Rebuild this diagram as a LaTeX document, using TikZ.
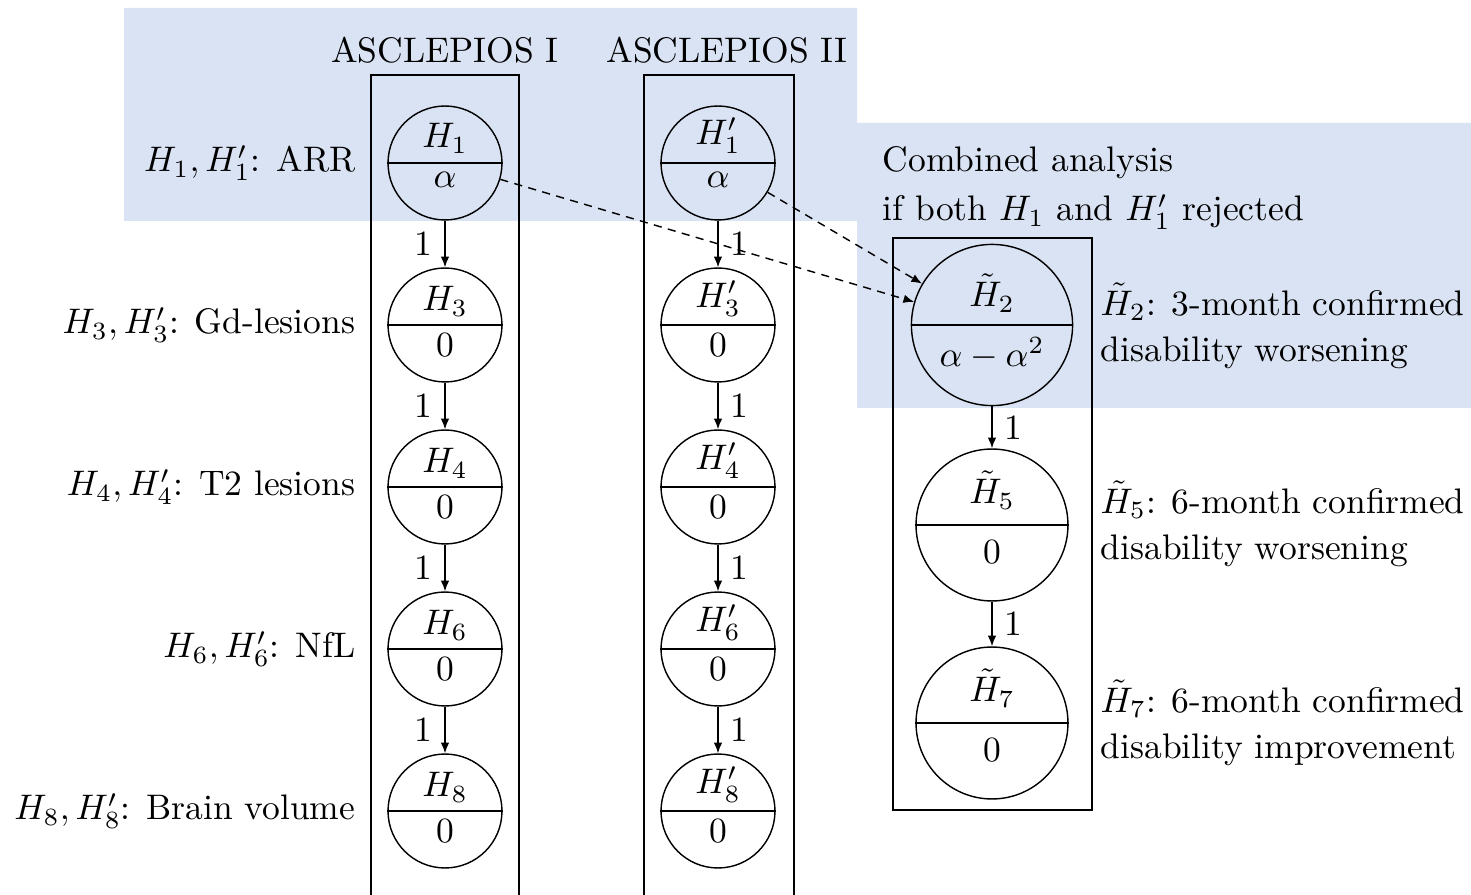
\documentclass[tikz,border=0pt]{standalone}
\usetikzlibrary{arrows.meta}
\definecolor{bgblue}{RGB}{218,227,243}
\tikzset{
  hyp/.style={circle, draw, line width=0.4pt, inner sep=0pt},
  hypline/.style={line width=0.4pt},
  htxt/.style={inner sep=0pt},
  flow/.style={line width=0.4pt, -{Latex[length=3pt,width=2.4pt]}},
  combo/.style={line width=0.4pt, dash pattern=on 2.3pt off 1.8pt, -{Latex[length=3pt,width=2.4pt]}},
  box/.style={line width=0.5pt},
  num/.style={inner sep=3.33pt},
  lab/.style={inner sep=0pt},
  desc/.style={inner sep=0pt, align=left, font=\fontsize{10}{13}\selectfont},
}
\newcommand\hypnode[6]{%
  \node[hyp, minimum size=#5] (#1) at (#2) {};
  \draw[hypline] (#1.west) -- (#1.east);
  \node[htxt, anchor=south] at ([shift={(0,-#6)}]#1.center) {#3};
  \node[htxt, anchor=north] at ([shift={(0,#6)}]#1.center) {#4};
}
\begin{document}
\begin{tikzpicture}[x=0.28169pt, y=-0.28169pt]
\path[use as bounding box] (0,0) rectangle (1471,895);
% background
\fill[bgblue] (124,8) -| (857,123) -| (1471,408) -| (857,221) -| (124,8) -- cycle;
% boxes
\draw[box] (371,900) |- (519,75) -- (519,900);
\draw[box] (644,900) |- (794,75) -- (794,900);
\draw[box] (893,238) rectangle (1092,810);
% titles
\node[lab, anchor=base] (t1) at (445,63) {ASCLEPIOS I};
\node[lab, anchor=base] (t2) at (727,63) {ASCLEPIOS II};
% column I
\hypnode{h1}{445,163}{$H_1$}{$\alpha$}{32.1pt}{9}
\hypnode{h3}{445,325}{$H_3$}{$0$}{32.1pt}{8}
\hypnode{h4}{445,487}{$H_4$}{$0$}{32.1pt}{8}
\hypnode{h6}{445,649}{$H_6$}{$0$}{32.1pt}{8}
\hypnode{h8}{445,811}{$H_8$}{$0$}{32.1pt}{8}
% column II
\hypnode{g1}{718,163}{$H_1'$}{$\alpha$}{32.1pt}{9}
\hypnode{g3}{718,325}{$H_3'$}{$0$}{32.1pt}{8}
\hypnode{g4}{718,487}{$H_4'$}{$0$}{32.1pt}{8}
\hypnode{g6}{718,649}{$H_6'$}{$0$}{32.1pt}{8}
\hypnode{g8}{718,811}{$H_8'$}{$0$}{32.1pt}{8}
% combined column
\hypnode{c2}{992,325}{$\tilde H_2$}{$\alpha-\alpha^2$}{45.4pt}{12}
\hypnode{c5}{992,525}{$\tilde H_5$}{$0$}{42.8pt}{15}
\hypnode{c7}{992,723}{$\tilde H_7$}{$0$}{42.8pt}{15}
% left labels
\node[lab, anchor=east] (l1) at (356,163) {$H_1, H_1'$: ARR};
\node[lab, anchor=east] (l3) at (356,325) {$H_3, H_3'$: Gd-lesions};
\node[lab, anchor=east] (l4) at (356,487) {$H_4, H_4'$: T2 lesions};
\node[lab, anchor=east] (l6) at (356,649) {$H_6, H_6'$: NfL};
\node[lab, anchor=east] (l8) at (356,811) {$H_8, H_8'$: Brain volume};
% right labels
\node[desc, anchor=west, font=\fontsize{10}{14}\selectfont] (comb) at (882,188) {Combined analysis\\if both $H_1$ and $H_1'$ rejected};
\node[desc, anchor=west] (r2) at (1100,326) {$\tilde H_2$: 3-month confirmed\\disability worsening};
\node[desc, anchor=west] (r5) at (1100,524) {$\tilde H_5$: 6-month confirmed\\disability worsening};
\node[desc, anchor=west] (r7) at (1100,723) {$\tilde H_7$: 6-month confirmed\\disability improvement};
% arrows column I
\draw[flow] (h1) -- node[num, left] {1} (h3);
\draw[flow] (h3) -- node[num, left] {1} (h4);
\draw[flow] (h4) -- node[num, left] {1} (h6);
\draw[flow] (h6) -- node[num, left] {1} (h8);
% arrows column II
\draw[flow] (g1) -- node[num, right] {1} (g3);
\draw[flow] (g3) -- node[num, right] {1} (g4);
\draw[flow] (g4) -- node[num, right] {1} (g6);
\draw[flow] (g6) -- node[num, right] {1} (g8);
% arrows combined
\draw[flow] (c2) -- node[num, right] {1} (c5);
\draw[flow] (c5) -- node[num, right] {1} (c7);
% dashed
\draw[combo] (h1) -- (c2);
\draw[combo] (g1) -- (c2);
\end{tikzpicture}
\end{document}
